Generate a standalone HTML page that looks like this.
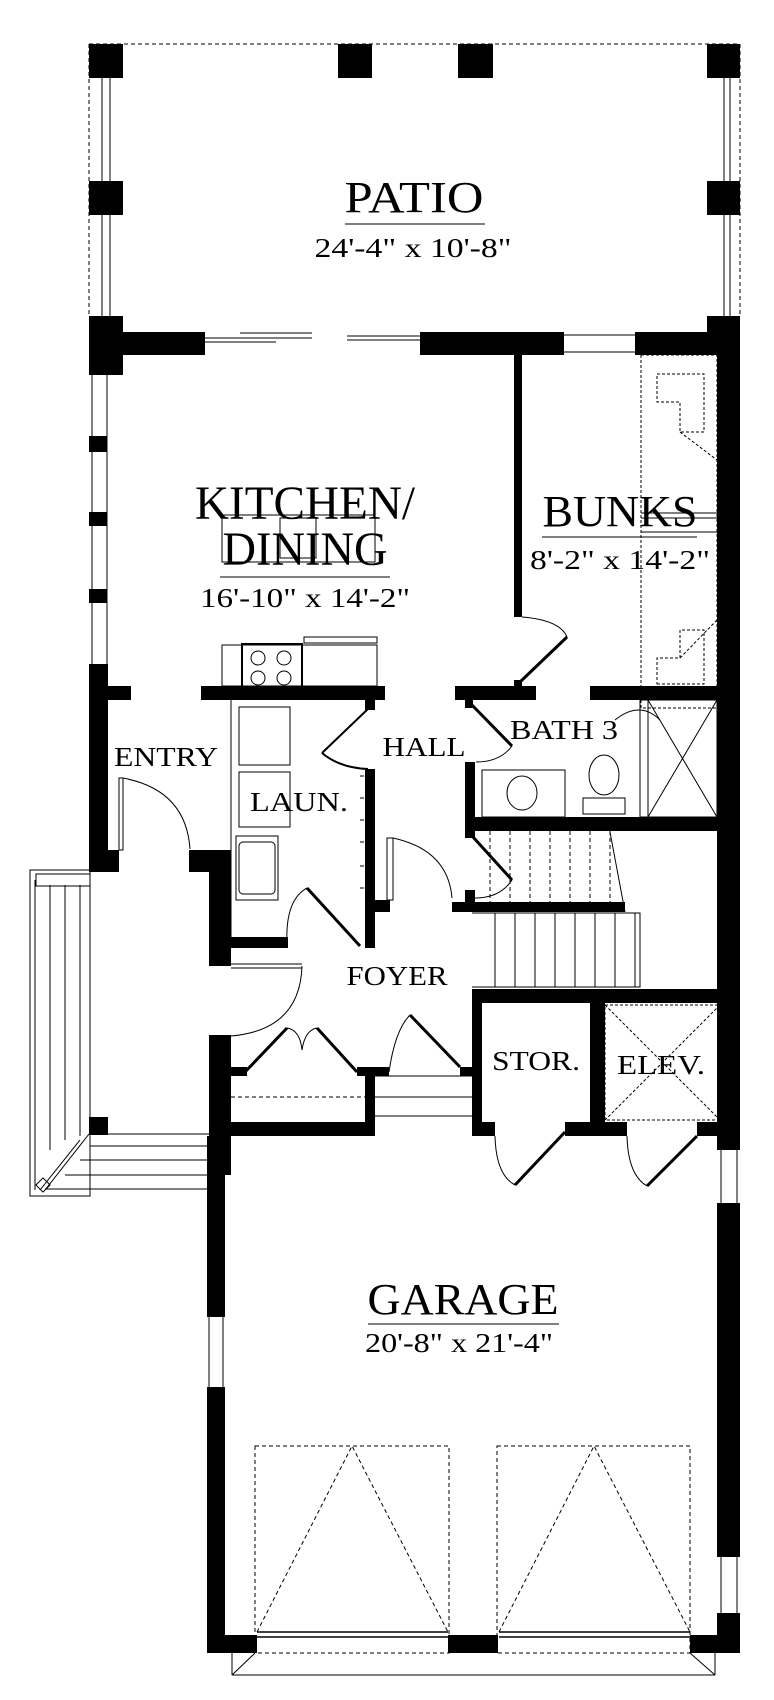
<!DOCTYPE html>
<html><head><meta charset="utf-8"><style>
html,body{margin:0;padding:0;background:#fff}
svg{display:block}
text{font-family:"Liberation Serif",serif;fill:#000}
</style></head><body>
<svg width="774" height="1700" viewBox="0 0 774 1700" xmlns="http://www.w3.org/2000/svg">
<g fill="none" stroke="#000" stroke-width="1">
<path d="M89 44H740V316M89 44V316" stroke-dasharray="4 3"/>
<path d="M102 78V316M110 78V316M730 78V316M724 78V316"/>
<path d="M205 338H312M240 333H312M205 342H276M347 340H420M347 336H420"/>
<path d="M564 335H635M564 352H635"/>
<path d="M92 375V664M107 375V664"/>
<rect x="641" y="355" width="76" height="353" stroke-dasharray="3 2"/>
<path d="M641 513H717M641 518H717M641 532H717"/>
<path d="M657 374H704V432H680V402H657Z M680 432L717 460" stroke-dasharray="3 2"/>
<path d="M657 684H704V630H680V658H657Z M680 658L717 620" stroke-dasharray="3 2"/>
<path d="M522 617Q560 620 567 637"/>
<path d="M567 637L520 682" stroke-width="3"/>
<rect x="222" y="515" width="153" height="47"/>
<rect x="280" y="518" width="36" height="40"/>
<rect x="222" y="645" width="155" height="41"/>
<rect x="304" y="637" width="73" height="6"/>
<rect x="242" y="644" width="60" height="47" stroke-width="2"/>
<circle cx="258" cy="658" r="7"/><circle cx="284" cy="658" r="7"/>
<circle cx="258" cy="678" r="7"/><circle cx="284" cy="678" r="7"/>
<rect x="119" y="778" width="4" height="72"/>
<path d="M123 778Q186 790 190 849"/>
<path d="M231 700V944"/>
<rect x="239" y="707" width="51" height="58"/><rect x="239" y="772" width="51" height="55"/>
<rect x="236" y="836" width="42" height="64"/><rect x="239" y="842" width="36" height="52" rx="4"/>
<path d="M370 707L322 753M322 753Q340 768 368 769" stroke-width="2"/>
<path d="M307 888L360 946" stroke-width="3"/>
<path d="M287 944Q285 900 307 888"/>
<rect x="387" y="838" width="6" height="62"/>
<path d="M393 838Q448 850 452 898"/>
<path d="M360 776H364M360 798H364M360 820H364M360 842H364M360 866H364M360 888H364"/>
<path d="M470 703L512 746" stroke-width="3"/>
<path d="M512 746Q500 762 476 762"/>
<rect x="482" y="770" width="83" height="47"/>
<ellipse cx="522" cy="793" rx="15" ry="17"/>
<ellipse cx="604" cy="775" rx="15" ry="20"/>
<rect x="583" y="798" width="42" height="16"/>
<rect x="640" y="700" width="77" height="117"/>
<path d="M648 700V817M648 700L717 817M717 700L648 817"/>
<path d="M615 720Q640 700 660 720"/>
<path d="M490 831V902M510 831V902M530 831V902M550 831V902M570 831V902M590 831V902M610 831V902" stroke-dasharray="4 3"/>
<path d="M473 837L512 880" stroke-width="3"/>
<path d="M512 880Q500 898 475 898"/>
<path d="M610 832L625 912"/>
<path d="M495 913V987M515 913V987M535 913V987M555 913V987M575 913V987M595 913V987M615 913V987M635 913V987"/>
<path d="M472 913H640V987H472"/>
<rect x="605" y="1005" width="115" height="115" stroke-dasharray="3 2"/>
<path d="M605 1005L720 1120M720 1005L605 1120" stroke-dasharray="3 2"/>
<path d="M565 1132L515 1185" stroke-width="3"/><path d="M495 1136Q496 1175 515 1185"/>
<path d="M697 1136L647 1186" stroke-width="3"/><path d="M627 1136Q628 1175 647 1186"/>
<path d="M231 964H302M231 968H302"/>
<path d="M302 966Q300 1030 231 1036"/>
<path d="M245 1072L287 1028M317 1028L357 1072M410 1015L460 1067" stroke-width="3"/>
<path d="M302 1050Q300 1030 287 1028M302 1050Q305 1030 317 1028M389 1072Q395 1030 410 1015"/>
<path d="M231 1097H365" stroke-dasharray="4 3"/>
<path d="M375 1097H472M375 1116H472M375 1076H472"/>
<rect x="30" y="870" width="60" height="326"/>
<path d="M35 880V1190M50 885V1150M65 885V1140M80 885V1136"/>
<path d="M36 874H90V886H36Z"/>
<path d="M90 1134H209M90 1146H209M80 1160H209M65 1175H209M45 1189H209"/>
<path d="M89 1134L45 1190M80 1140L40 1190"/>
<rect x="38" y="1180" width="10" height="10" transform="rotate(45 43 1185)"/>
<path d="M209 1317V1387M223 1317V1387"/>
<path d="M721 1150V1203M737 1150V1203M721 1557V1613M737 1557V1613"/>
<rect x="255" y="1446" width="194" height="207" stroke-dasharray="4 3"/>
<rect x="497" y="1446" width="193" height="207" stroke-dasharray="4 3"/>
<path d="M257 1632L352 1446L448 1632M499 1632L594 1446L690 1632" stroke-dasharray="4 3"/>
<path d="M257 1632H448M257 1637H448M499 1632H690M499 1637H690" stroke-width="1.5"/>
<path d="M232 1675H715M232 1675L255 1653M715 1675L690 1653M232 1653V1675M715 1653V1675"/>
<path d="M345 224H485M220 577H390M542 537H697M368 1324H559"/>
</g>
<g fill="#000">
<rect x="89" y="44" width="34" height="34"/><rect x="338" y="44" width="34" height="34"/>
<rect x="458" y="44" width="35" height="34"/><rect x="707" y="44" width="33" height="34"/>
<rect x="89" y="181" width="34" height="34"/><rect x="707" y="181" width="33" height="34"/>
<rect x="89" y="316" width="34" height="59"/>
<rect x="89" y="332" width="116" height="23"/>
<rect x="420" y="332" width="144" height="23"/>
<rect x="635" y="332" width="105" height="23"/>
<rect x="707" y="316" width="33" height="30"/>
<rect x="717" y="316" width="23" height="834"/>
<rect x="717" y="1203" width="23" height="354"/>
<rect x="717" y="1613" width="23" height="40"/>
<rect x="89" y="436" width="18" height="16"/><rect x="89" y="512" width="18" height="14"/>
<rect x="89" y="589" width="18" height="14"/>
<rect x="89" y="664" width="19" height="206"/>
<rect x="89" y="850" width="30" height="22"/>
<rect x="89" y="1117" width="19" height="18"/>
<rect x="514" y="355" width="8" height="262"/>
<rect x="514" y="680" width="8" height="20"/>
<rect x="89" y="686" width="42" height="14"/>
<rect x="201" y="686" width="184" height="14"/>
<rect x="455" y="686" width="81" height="14"/>
<rect x="590" y="686" width="127" height="14"/>
<rect x="189" y="850" width="31" height="22"/>
<rect x="209" y="850" width="22" height="116"/>
<rect x="231" y="937" width="57" height="11"/>
<rect x="365" y="769" width="10" height="179"/>
<rect x="365" y="700" width="10" height="10"/>
<rect x="375" y="900" width="15" height="12"/>
<rect x="465" y="762" width="10" height="76"/>
<rect x="465" y="817" width="252" height="14"/>
<rect x="465" y="700" width="8" height="8"/>
<rect x="452" y="902" width="173" height="10"/>
<rect x="465" y="890" width="10" height="12"/>
<rect x="472" y="989" width="245" height="14"/>
<rect x="472" y="1003" width="10" height="133"/>
<rect x="590" y="1003" width="15" height="133"/>
<rect x="472" y="1122" width="23" height="14"/>
<rect x="565" y="1122" width="62" height="14"/>
<rect x="697" y="1122" width="23" height="14"/>
<rect x="209" y="1035" width="22" height="140"/>
<rect x="231" y="1067" width="16" height="9"/>
<rect x="357" y="1067" width="32" height="9"/>
<rect x="460" y="1067" width="12" height="9"/>
<rect x="365" y="1067" width="10" height="69"/>
<rect x="231" y="1122" width="144" height="14"/>
<rect x="207" y="1136" width="18" height="181"/>
<rect x="207" y="1387" width="18" height="266"/>
<rect x="207" y="1635" width="50" height="18"/>
<rect x="448" y="1635" width="50" height="18"/>
<rect x="690" y="1635" width="50" height="18"/>
</g>
<g text-anchor="middle">
<text x="414" y="212" font-size="44" textLength="139" lengthAdjust="spacingAndGlyphs">PATIO</text>
<text x="413" y="257" font-size="27" textLength="197" lengthAdjust="spacingAndGlyphs">24'-4" x 10'-8"</text>
<text x="305" y="519" font-size="48" textLength="220" lengthAdjust="spacingAndGlyphs">KITCHEN/</text>
<text x="305" y="565" font-size="48" textLength="165" lengthAdjust="spacingAndGlyphs">DINING</text>
<text x="305" y="607" font-size="27" textLength="210" lengthAdjust="spacingAndGlyphs">16'-10" x 14'-2"</text>
<text x="620" y="526" font-size="44" textLength="155" lengthAdjust="spacingAndGlyphs">BUNKS</text>
<text x="620" y="569" font-size="27" textLength="180" lengthAdjust="spacingAndGlyphs">8'-2" x 14'-2"</text>
<text x="166" y="766" font-size="27" textLength="104" lengthAdjust="spacingAndGlyphs">ENTRY</text>
<text x="424" y="756" font-size="27" textLength="83" lengthAdjust="spacingAndGlyphs">HALL</text>
<text x="564" y="739" font-size="27" textLength="108" lengthAdjust="spacingAndGlyphs">BATH 3</text>
<text x="299" y="811" font-size="27" textLength="98" lengthAdjust="spacingAndGlyphs">LAUN.</text>
<text x="397" y="985" font-size="27" textLength="101" lengthAdjust="spacingAndGlyphs">FOYER</text>
<text x="536" y="1070" font-size="27" textLength="88" lengthAdjust="spacingAndGlyphs">STOR.</text>
<text x="661" y="1074" font-size="27" textLength="88" lengthAdjust="spacingAndGlyphs">ELEV.</text>
<text x="463" y="1314" font-size="44" textLength="191" lengthAdjust="spacingAndGlyphs">GARAGE</text>
<text x="459" y="1352" font-size="27" textLength="188" lengthAdjust="spacingAndGlyphs">20'-8" x 21'-4"</text>
</g>
</svg>
</body></html>
